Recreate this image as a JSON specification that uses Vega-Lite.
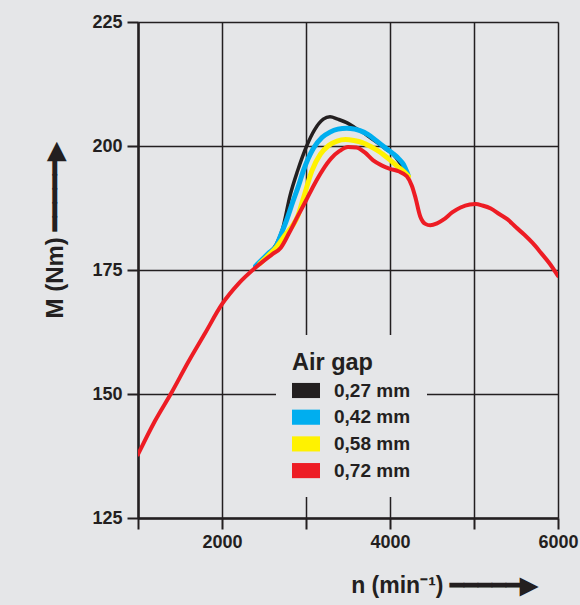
{
  "$schema": "https://vega.github.io/schema/vega-lite/v6.json",
  "width": 420,
  "height": 496,
  "autosize": {"type": "none"},
  "padding": {"left": 138, "top": 22, "right": 22, "bottom": 87},
  "background": "#e5e6e8",
  "config": {"view": {"stroke": null}, "font": "Liberation Sans"},
  "data": {
    "values": [
      {"n": 2400, "M": 175.8, "gap": "0,27 mm"},
      {"n": 2550, "M": 178.3, "gap": "0,27 mm"},
      {"n": 2650, "M": 180.3, "gap": "0,27 mm"},
      {"n": 2720, "M": 183.2, "gap": "0,27 mm"},
      {"n": 2810, "M": 190.0, "gap": "0,27 mm"},
      {"n": 2900, "M": 195.0, "gap": "0,27 mm"},
      {"n": 3008, "M": 200.0, "gap": "0,27 mm"},
      {"n": 3100, "M": 203.2, "gap": "0,27 mm"},
      {"n": 3206, "M": 205.4, "gap": "0,27 mm"},
      {"n": 3286, "M": 205.9, "gap": "0,27 mm"},
      {"n": 3380, "M": 205.4, "gap": "0,27 mm"},
      {"n": 3484, "M": 204.7, "gap": "0,27 mm"},
      {"n": 3582, "M": 203.7, "gap": "0,27 mm"},
      {"n": 3682, "M": 202.7, "gap": "0,27 mm"},
      {"n": 3780, "M": 201.5, "gap": "0,27 mm"},
      {"n": 3881, "M": 200.3, "gap": "0,27 mm"},
      {"n": 3960, "M": 199.3, "gap": "0,27 mm"},
      {"n": 4040, "M": 198.3, "gap": "0,27 mm"},
      {"n": 4110, "M": 196.8, "gap": "0,27 mm"},
      {"n": 4179, "M": 195.0, "gap": "0,27 mm"},
      {"n": 4220, "M": 193.9, "gap": "0,27 mm"},

      {"n": 2400, "M": 175.8, "gap": "0,42 mm"},
      {"n": 2550, "M": 178.3, "gap": "0,42 mm"},
      {"n": 2651, "M": 180.0, "gap": "0,42 mm"},
      {"n": 2710, "M": 182.5, "gap": "0,42 mm"},
      {"n": 2770, "M": 185.1, "gap": "0,42 mm"},
      {"n": 2840, "M": 188.6, "gap": "0,42 mm"},
      {"n": 2909, "M": 191.9, "gap": "0,42 mm"},
      {"n": 2968, "M": 195.0, "gap": "0,42 mm"},
      {"n": 3087, "M": 199.5, "gap": "0,42 mm"},
      {"n": 3190, "M": 201.7, "gap": "0,42 mm"},
      {"n": 3286, "M": 202.8, "gap": "0,42 mm"},
      {"n": 3380, "M": 203.4, "gap": "0,42 mm"},
      {"n": 3484, "M": 203.6, "gap": "0,42 mm"},
      {"n": 3580, "M": 203.4, "gap": "0,42 mm"},
      {"n": 3643, "M": 203.1, "gap": "0,42 mm"},
      {"n": 3740, "M": 202.3, "gap": "0,42 mm"},
      {"n": 3841, "M": 201.0, "gap": "0,42 mm"},
      {"n": 3940, "M": 199.7, "gap": "0,42 mm"},
      {"n": 4040, "M": 198.4, "gap": "0,42 mm"},
      {"n": 4100, "M": 197.5, "gap": "0,42 mm"},
      {"n": 4159, "M": 196.3, "gap": "0,42 mm"},
      {"n": 4218, "M": 194.0, "gap": "0,42 mm"},

      {"n": 2450, "M": 176.3, "gap": "0,58 mm"},
      {"n": 2550, "M": 177.9, "gap": "0,58 mm"},
      {"n": 2650, "M": 179.6, "gap": "0,58 mm"},
      {"n": 2750, "M": 182.0, "gap": "0,58 mm"},
      {"n": 2850, "M": 184.2, "gap": "0,58 mm"},
      {"n": 2900, "M": 185.8, "gap": "0,58 mm"},
      {"n": 2970, "M": 189.5, "gap": "0,58 mm"},
      {"n": 3070, "M": 195.0, "gap": "0,58 mm"},
      {"n": 3170, "M": 198.3, "gap": "0,58 mm"},
      {"n": 3270, "M": 200.1, "gap": "0,58 mm"},
      {"n": 3370, "M": 201.0, "gap": "0,58 mm"},
      {"n": 3470, "M": 201.3, "gap": "0,58 mm"},
      {"n": 3570, "M": 201.1, "gap": "0,58 mm"},
      {"n": 3670, "M": 200.7, "gap": "0,58 mm"},
      {"n": 3770, "M": 199.9, "gap": "0,58 mm"},
      {"n": 3870, "M": 198.9, "gap": "0,58 mm"},
      {"n": 3970, "M": 197.6, "gap": "0,58 mm"},
      {"n": 4080, "M": 196.0, "gap": "0,58 mm"},
      {"n": 4180, "M": 194.6, "gap": "0,58 mm"},
      {"n": 4220, "M": 193.9, "gap": "0,58 mm"},

      {"n": 1000, "M": 137.8, "gap": "0,72 mm"},
      {"n": 1200, "M": 144.5, "gap": "0,72 mm"},
      {"n": 1400, "M": 150.3, "gap": "0,72 mm"},
      {"n": 1600, "M": 156.5, "gap": "0,72 mm"},
      {"n": 1800, "M": 162.3, "gap": "0,72 mm"},
      {"n": 2000, "M": 168.1, "gap": "0,72 mm"},
      {"n": 2200, "M": 172.3, "gap": "0,72 mm"},
      {"n": 2400, "M": 175.5, "gap": "0,72 mm"},
      {"n": 2600, "M": 178.2, "gap": "0,72 mm"},
      {"n": 2700, "M": 179.5, "gap": "0,72 mm"},
      {"n": 2800, "M": 182.5, "gap": "0,72 mm"},
      {"n": 2900, "M": 185.8, "gap": "0,72 mm"},
      {"n": 3000, "M": 189.0, "gap": "0,72 mm"},
      {"n": 3100, "M": 192.3, "gap": "0,72 mm"},
      {"n": 3200, "M": 195.2, "gap": "0,72 mm"},
      {"n": 3300, "M": 197.5, "gap": "0,72 mm"},
      {"n": 3400, "M": 199.0, "gap": "0,72 mm"},
      {"n": 3500, "M": 199.8, "gap": "0,72 mm"},
      {"n": 3600, "M": 199.7, "gap": "0,72 mm"},
      {"n": 3700, "M": 198.7, "gap": "0,72 mm"},
      {"n": 3800, "M": 197.1, "gap": "0,72 mm"},
      {"n": 3900, "M": 196.1, "gap": "0,72 mm"},
      {"n": 4000, "M": 195.4, "gap": "0,72 mm"},
      {"n": 4100, "M": 194.9, "gap": "0,72 mm"},
      {"n": 4200, "M": 193.9, "gap": "0,72 mm"},
      {"n": 4260, "M": 192.0, "gap": "0,72 mm"},
      {"n": 4300, "M": 189.8, "gap": "0,72 mm"},
      {"n": 4360, "M": 185.8, "gap": "0,72 mm"},
      {"n": 4420, "M": 184.3, "gap": "0,72 mm"},
      {"n": 4480, "M": 184.0, "gap": "0,72 mm"},
      {"n": 4560, "M": 184.4, "gap": "0,72 mm"},
      {"n": 4640, "M": 185.2, "gap": "0,72 mm"},
      {"n": 4740, "M": 186.6, "gap": "0,72 mm"},
      {"n": 4840, "M": 187.6, "gap": "0,72 mm"},
      {"n": 4950, "M": 188.2, "gap": "0,72 mm"},
      {"n": 5020, "M": 188.3, "gap": "0,72 mm"},
      {"n": 5100, "M": 188.0, "gap": "0,72 mm"},
      {"n": 5200, "M": 187.4, "gap": "0,72 mm"},
      {"n": 5300, "M": 186.3, "gap": "0,72 mm"},
      {"n": 5400, "M": 185.2, "gap": "0,72 mm"},
      {"n": 5500, "M": 183.6, "gap": "0,72 mm"},
      {"n": 5600, "M": 182.1, "gap": "0,72 mm"},
      {"n": 5700, "M": 180.4, "gap": "0,72 mm"},
      {"n": 5800, "M": 178.4, "gap": "0,72 mm"},
      {"n": 5900, "M": 176.3, "gap": "0,72 mm"},
      {"n": 6000, "M": 173.8, "gap": "0,72 mm"}
    ]
  },
  "encoding": {
    "x": {
      "field": "n",
      "type": "quantitative",
      "scale": {"domain": [1000, 6000], "nice": false, "zero": false},
      "axis": {
        "values": [1000, 2000, 3000, 4000, 5000, 6000],
        "format": "d",
        "labelExpr": "datum.value % 2000 == 0 ? datum.label : ''",
        "labelFlush": false,
        "labelOverlap": false,
        "labelFont": "Liberation Sans",
        "labelFontSize": 18,
        "labelFontWeight": "bold",
        "labelColor": "#231f20",
        "labelPadding": 4,
        "tickSize": 11,
        "tickWidth": 2,
        "tickColor": "#231f20",
        "domainColor": "#231f20",
        "domainWidth": 2.5,
        "grid": true,
        "gridColor": "#231f20",
        "gridWidth": 1.5,
        "gridOpacity": 1,
        "title": "n (min⁻¹) ━━━━━▶",
        "titleFont": "Liberation Sans",
        "titleFontSize": 23,
        "titleFontWeight": "bold",
        "titleColor": "#231f20",
        "titleX": 306,
        "titleY": 67,
        "titleAlign": "center",
        "titleBaseline": "middle"
      }
    },
    "y": {
      "field": "M",
      "type": "quantitative",
      "scale": {"domain": [125, 225], "nice": false, "zero": false},
      "axis": {
        "values": [125, 150, 175, 200, 225],
        "format": "d",
        "labelFlush": false,
        "labelOverlap": false,
        "labelFont": "Liberation Sans",
        "labelFontSize": 18,
        "labelFontWeight": "bold",
        "labelColor": "#231f20",
        "labelPadding": 5,
        "tickSize": 11,
        "tickWidth": 2,
        "tickColor": "#231f20",
        "domainColor": "#231f20",
        "domainWidth": 2.5,
        "grid": true,
        "gridColor": "#231f20",
        "gridWidth": 1.5,
        "gridOpacity": 1,
        "title": "M (Nm) ━━━━━▶",
        "titleFont": "Liberation Sans",
        "titleFontSize": 24,
        "titleFontWeight": "bold",
        "titleColor": "#231f20",
        "titleAngle": 270,
        "titleX": -83,
        "titleY": 208,
        "titleAlign": "center",
        "titleBaseline": "middle"
      }
    },
    "color": {
      "field": "gap",
      "type": "nominal",
      "scale": {
        "domain": ["0,27 mm", "0,42 mm", "0,58 mm", "0,72 mm"],
        "range": ["#231f20", "#00aeef", "#fff200", "#ed1c24"]
      },
      "legend": {
        "orient": "none",
        "legendX": 138,
        "legendY": 313,
        "title": "Air gap",
        "titleFont": "Liberation Sans",
        "titleFontSize": 23.5,
        "titleFontWeight": "bold",
        "titleColor": "#231f20",
        "titlePadding": 2,
        "labelFont": "Liberation Sans",
        "labelFontSize": 19,
        "labelFontWeight": "bold",
        "labelColor": "#231f20",
        "labelOffset": 14,
        "symbolType": "M-1,-0.54L1,-0.54L1,0.54L-1,0.54Z",
        "symbolSize": 784,
        "symbolStrokeWidth": 0,
        "symbolOpacity": 1,
        "rowPadding": 2.7,
        "padding": 16,
        "fillColor": "#e5e6e8",
        "encode": {
          "symbols": {"update": {
            "fill": {"scale": "color", "field": "value"},
            "fillOpacity": {"value": 1},
            "strokeWidth": {"value": 0}
          }}
        }
      }
    }
  },
  "layer": [
    {
      "transform": [{"filter": "datum.gap == '0,27 mm'"}],
      "mark": {"type": "line", "interpolate": "monotone", "strokeCap": "round", "strokeJoin": "round", "clip": true, "strokeWidth": 3.5}
    },
    {
      "transform": [{"filter": "datum.gap == '0,42 mm'"}],
      "mark": {"type": "line", "interpolate": "monotone", "strokeCap": "round", "strokeJoin": "round", "clip": true, "strokeWidth": 5}
    },
    {
      "transform": [{"filter": "datum.gap == '0,58 mm'"}],
      "mark": {"type": "line", "interpolate": "monotone", "strokeCap": "round", "strokeJoin": "round", "clip": true, "strokeWidth": 5}
    },
    {
      "transform": [{"filter": "datum.gap == '0,72 mm'"}],
      "mark": {"type": "line", "interpolate": "monotone", "strokeCap": "round", "strokeJoin": "round", "clip": true, "strokeWidth": 4}
    }
  ]
}
